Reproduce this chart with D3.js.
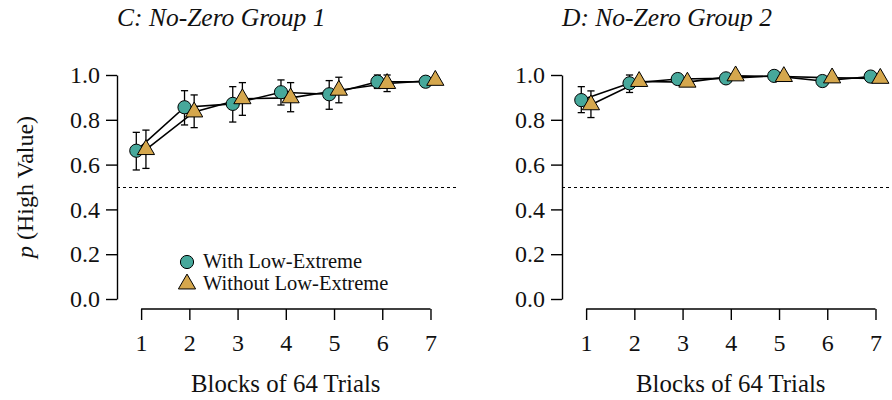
<!DOCTYPE html>
<html>
<head>
<meta charset="utf-8">
<script src="https://cdn.jsdelivr.net/npm/d3@7"></script>
<style>
  body { margin: 0; background: #fff; }
  svg { display: block; }
  text { font-family: "Liberation Serif", "DejaVu Serif", serif; fill: #111; }
</style>
</head>
<body>
<svg id="chart" width="892" height="400"></svg>
<script>
// ---- data ----
const blocks = [1, 2, 3, 4, 5, 6, 7];
const yTicks = [0, 0.2, 0.4, 0.6, 0.8, 1.0];
const panelTitles = ["C: No-Zero Group 1", "D: No-Zero Group 2"];
const seriesNames = ["With Low-Extreme", "Without Low-Extreme"];

// Panel C
const cWithMean   = [0.662, 0.856, 0.871, 0.923, 0.914, 0.970, 0.970];
const cWithLo     = [0.576, 0.777, 0.790, 0.866, 0.847, 0.940, 0.962];
const cWithHi     = [0.744, 0.930, 0.948, 0.978, 0.975, 1.000, 0.978];
const cWithoutMean= [0.667, 0.835, 0.894, 0.898, 0.932, 0.962, 0.976];
const cWithoutLo  = [0.583, 0.765, 0.820, 0.836, 0.876, 0.926, 0.968];
const cWithoutHi  = [0.754, 0.911, 0.966, 0.966, 0.990, 1.000, 0.984];

// Panel D
const dWithMean   = [0.888, 0.963, 0.982, 0.985, 0.996, 0.973, 0.993];
const dWithLo     = [0.832, 0.922, 0.972, 0.978, 0.990, 0.963, 0.987];
const dWithHi     = [0.948, 1.000, 0.992, 0.992, 1.000, 0.983, 0.999];
const dWithoutMean= [0.867, 0.971, 0.968, 0.996, 0.993, 0.987, 0.985];
const dWithoutLo  = [0.810, 0.955, 0.958, 0.990, 0.986, 0.980, 0.978];
const dWithoutHi  = [0.929, 0.987, 0.978, 1.000, 1.000, 0.994, 0.992];

const chanceLevel = 0.5;

// ---- style ----
const teal = "#47a89b";
const gold = "#d5a74d";
const serif = '"Liberation Serif", "DejaVu Serif", serif';
const axisFont = 24;

const svg = d3.select("#chart");

const panels = [
  { left: 117, title: panelTitles[0], showY: true, showLegend: true,
    series: [
      { name: seriesNames[0], mean: cWithMean, lo: cWithLo, hi: cWithHi, shape: "circle", color: teal, off: -0.1 },
      { name: seriesNames[1], mean: cWithoutMean, lo: cWithoutLo, hi: cWithoutHi, shape: "triangle", color: gold, off: 0.1 }
    ] },
  { left: 562, title: panelTitles[1], showY: false, showLegend: false,
    series: [
      { name: seriesNames[0], mean: dWithMean, lo: dWithLo, hi: dWithHi, shape: "circle", color: teal, off: -0.1 },
      { name: seriesNames[1], mean: dWithoutMean, lo: dWithoutLo, hi: dWithoutHi, shape: "triangle", color: gold, off: 0.1 }
    ] }
];

const y = d3.scaleLinear().domain([0, 1]).range([299, 75]);
const triSym = d3.symbol().type(d3.symbolTriangle).size(128);
const circR = 6.6;

function drawMarker(g, shape, color, cx, cy) {
  if (shape === "circle") {
    g.append("circle").attr("cx", cx).attr("cy", cy).attr("r", circR)
      .attr("fill", color).attr("stroke", "#000").attr("stroke-width", 1);
  } else {
    g.append("path").attr("d", triSym).attr("transform", `translate(${cx},${cy})`)
      .attr("fill", color).attr("stroke", "#000").attr("stroke-width", 1).attr("stroke-linejoin", "miter");
  }
}

panels.forEach(p => {
  const x = d3.scaleLinear().domain([0.5, 7.5]).range([p.left, p.left + 337.6]);
  const g = svg.append("g");

  // title
  g.append("text").attr("x", p.left).attr("y", 26)
    .attr("font-style", "italic").attr("font-size", 25.5)
    .text(p.title);

  // chance line
  g.append("line")
    .attr("x1", x(0.5)).attr("x2", x(7.5) + 2)
    .attr("y1", y(chanceLevel) + 0.5).attr("y2", y(chanceLevel) + 0.5)
    .attr("stroke", "#000").attr("stroke-width", 1).attr("stroke-dasharray", "3,3");

  // y axis
  const ya = g.append("g").attr("transform", `translate(${p.left},0)`)
    .call(d3.axisLeft(y).tickValues(yTicks).tickFormat(d3.format(".1f")).tickSize(11).tickSizeOuter(0).tickPadding(6));
  ya.select(".domain").attr("stroke", "#000").attr("stroke-width", 1.4);
  ya.selectAll(".tick line").attr("stroke", "#000").attr("stroke-width", 1.4);
  ya.selectAll("text").attr("font-family", serif).attr("font-size", axisFont).attr("fill", "#111");

  // x axis
  const xa = g.append("g").attr("transform", "translate(0,309)")
    .call(d3.axisBottom(x).tickValues(blocks).tickFormat(d3.format("d")).tickSize(11).tickPadding(14));
  xa.select(".domain").remove();
  xa.append("line").attr("x1", x(blocks[0])).attr("x2", x(blocks[blocks.length - 1]))
    .attr("y1", 0).attr("y2", 0).attr("stroke", "#000").attr("stroke-width", 1.4);
  xa.selectAll(".tick line").attr("stroke", "#000").attr("stroke-width", 1.4);
  xa.selectAll("text").attr("font-family", serif).attr("font-size", axisFont).attr("fill", "#111");

  g.append("text").attr("x", (x(1) + x(7)) / 2).attr("y", 392)
    .attr("text-anchor", "middle").attr("font-size", 24.8)
    .text("Blocks of 64 Trials");

  // lines
  const line = d3.line().x(d => x(d.b)).y(d => y(d.v));
  p.series.forEach(s => {
    const pts = blocks.map((b, i) => ({ b: b + s.off, v: s.mean[i] }));
    g.append("path").datum(pts).attr("d", line)
      .attr("fill", "none").attr("stroke", "#000").attr("stroke-width", 1.6);
  });

  // error bars + markers, drawn per block
  blocks.forEach((b, i) => {
    p.series.forEach(s => {
      const cx = x(b + s.off);
      const eg = g.append("g").attr("stroke", "#000").attr("stroke-width", 1.3);
      eg.append("line").attr("x1", cx).attr("x2", cx).attr("y1", y(s.lo[i])).attr("y2", y(s.hi[i]));
      eg.append("line").attr("x1", cx - 3.6).attr("x2", cx + 3.6).attr("y1", y(s.lo[i])).attr("y2", y(s.lo[i]));
      eg.append("line").attr("x1", cx - 3.6).attr("x2", cx + 3.6).attr("y1", y(s.hi[i])).attr("y2", y(s.hi[i]));
    });
    p.series.forEach(s => {
      drawMarker(g, s.shape, s.color, x(b + s.off), y(s.mean[i]));
    });
  });

  if (p.showY) {
    const yl = g.append("text")
      .attr("transform", `translate(33,${y(0.5)}) rotate(-90)`)
      .attr("text-anchor", "middle").attr("font-size", axisFont);
    yl.append("tspan").attr("font-style", "italic").text("p");
    yl.append("tspan").text(" (High Value)");
  }

  if (p.showLegend) {
    const lg = g.append("g");
    p.series.forEach((s, k) => {
      const ly = 262 + k * 22;
      drawMarker(lg, s.shape, s.color, 187, ly);
      lg.append("text").attr("x", 203).attr("y", ly + 6)
        .attr("font-size", 20.5).text(s.name);
    });
  }
});
</script>
</body>
</html>
